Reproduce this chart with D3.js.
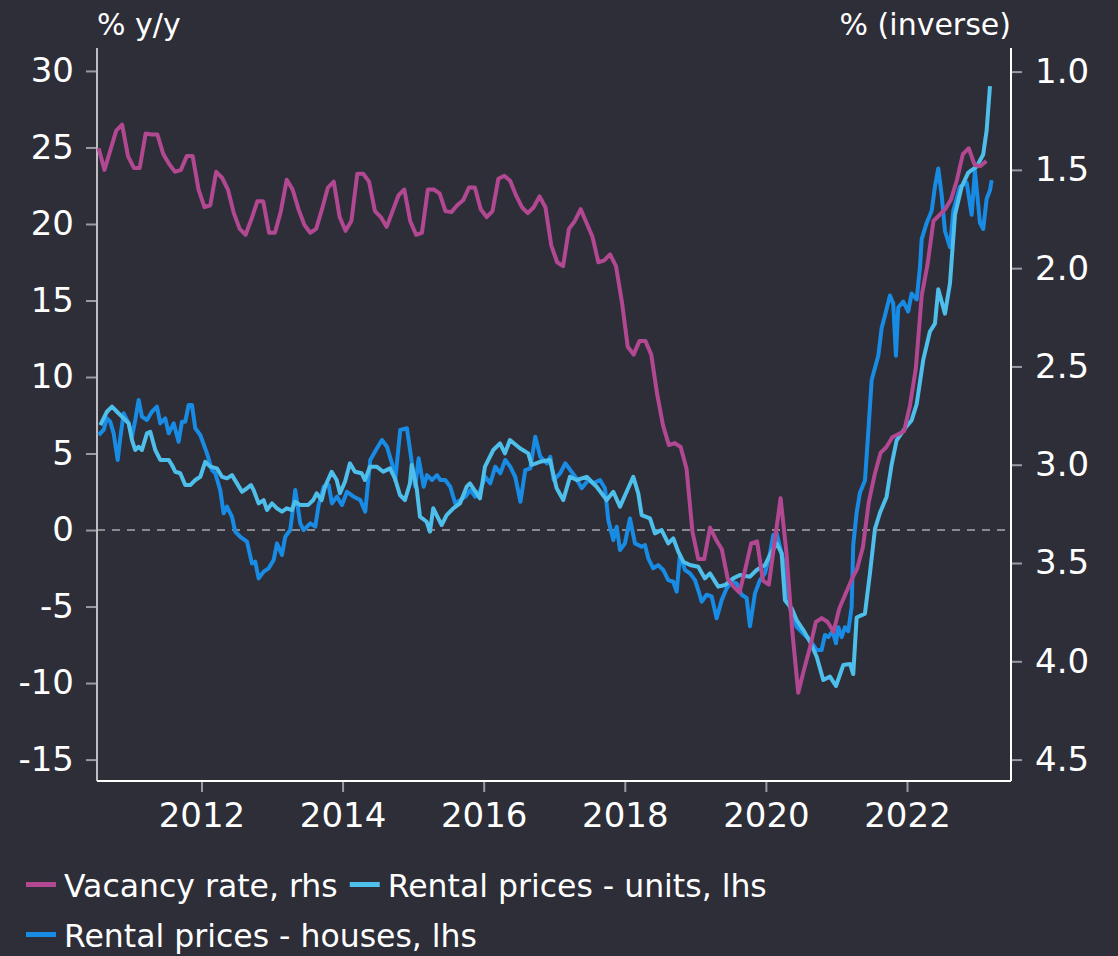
<!DOCTYPE html>
<html>
<head>
<meta charset="utf-8">
<script src="https://cdn.jsdelivr.net/npm/d3@7"></script>
<style>
  html, body { margin: 0; padding: 0; background: #2e2e38; }
  svg { display: block; }
  text { font-family: "DejaVu Sans", sans-serif; fill: #ffffff; }
</style>
</head>
<body>
<svg id="chart" width="1118" height="956"></svg>
<script>
// vacancy rate (%), monthly from Jul 2010
const vacancyStart = new Date(2010, 6, 1);
const vacancyRate = [
  1.39, 1.50, 1.40, 1.30, 1.27, 1.43, 1.49, 1.49, 1.315, 1.32, 1.32, 1.42,
  1.47, 1.51, 1.50, 1.43, 1.43, 1.60, 1.69, 1.68, 1.51, 1.54, 1.60, 1.72,
  1.80, 1.83, 1.75, 1.66, 1.66, 1.82, 1.82, 1.71, 1.55, 1.60, 1.70, 1.78,
  1.82, 1.80, 1.70, 1.59, 1.56, 1.74, 1.81, 1.76, 1.52, 1.52, 1.56, 1.71,
  1.74, 1.79, 1.71, 1.63, 1.60, 1.76, 1.83, 1.82, 1.60, 1.60, 1.62, 1.71,
  1.715, 1.68, 1.655, 1.59, 1.59, 1.70, 1.74, 1.71, 1.545, 1.53, 1.555, 1.63,
  1.69, 1.72, 1.69, 1.635, 1.69, 1.885, 1.97, 1.99, 1.80, 1.76, 1.70, 1.77,
  1.84, 1.97, 1.96, 1.93, 1.99, 2.17, 2.40, 2.44, 2.37, 2.37, 2.44, 2.64,
  2.80, 2.90, 2.89, 2.91, 3.02, 3.34, 3.48, 3.48, 3.32, 3.38, 3.43, 3.58,
  3.62, 3.65, 3.53, 3.40, 3.39, 3.59, 3.61, 3.39, 3.17, 3.45, 3.85, 4.16,
  4.04, 3.93, 3.80, 3.78, 3.80, 3.85, 3.73, 3.66, 3.59, 3.53, 3.42, 3.19,
  3.05, 2.94, 2.91, 2.86, 2.845, 2.83, 2.70, 2.51, 2.14, 1.98, 1.76, 1.73,
  1.70, 1.65, 1.55, 1.42, 1.39, 1.475, 1.48, 1.455
];

// rental prices - units, % y/y (decimal year, value)
const unitsYear = [
  2010.565, 2010.660, 2010.731, 2010.802, 2010.897, 2010.968, 2011.015, 2011.061, 2011.109, 2011.156,
  2011.227, 2011.274, 2011.345, 2011.416, 2011.535, 2011.581, 2011.628, 2011.699, 2011.770, 2011.841,
  2011.912, 2011.983, 2012.053, 2012.124, 2012.219, 2012.290, 2012.361, 2012.432, 2012.503, 2012.574,
  2012.645, 2012.701, 2012.739, 2012.810, 2012.881, 2012.928, 2012.999, 2013.070, 2013.141, 2013.207,
  2013.282, 2013.325, 2013.396, 2013.513, 2013.584, 2013.632, 2013.703, 2013.750, 2013.845, 2013.916,
  2013.963, 2014.034, 2014.104, 2014.175, 2014.270, 2014.317, 2014.388, 2014.483, 2014.576, 2014.671,
  2014.742, 2014.813, 2014.884, 2014.955, 2014.979, 2015.050, 2015.097, 2015.192, 2015.238, 2015.285,
  2015.356, 2015.404, 2015.475, 2015.569, 2015.664, 2015.759, 2015.805, 2015.947, 2016.018, 2016.136,
  2016.231, 2016.301, 2016.372, 2016.514, 2016.632, 2016.680, 2016.797, 2016.939, 2017.034, 2017.128,
  2017.223, 2017.318, 2017.459, 2017.601, 2017.743, 2017.837, 2017.932, 2018.026, 2018.120, 2018.191,
  2018.239, 2018.357, 2018.427, 2018.522, 2018.616, 2018.687, 2018.758, 2018.829, 2018.924, 2019.041,
  2019.136, 2019.207, 2019.325, 2019.420, 2019.537, 2019.632, 2019.774, 2019.869, 2019.987, 2020.082,
  2020.153, 2020.223, 2020.270, 2020.365, 2020.436, 2020.530, 2020.625, 2020.720, 2020.813, 2020.908,
  2020.993, 2021.097, 2021.192, 2021.238, 2021.286, 2021.404, 2021.475, 2021.546, 2021.617, 2021.711,
  2021.782, 2021.853, 2021.971, 2022.066, 2022.137, 2022.230, 2022.325, 2022.396, 2022.443, 2022.538,
  2022.609, 2022.680, 2022.775, 2022.868, 2022.987, 2023.080, 2023.129, 2023.176
];
const unitsValue = [
  6.86, 7.73, 8.06, 7.73, 7.30, 6.97, 5.88, 5.23, 5.44, 5.23,
  6.32, 6.42, 5.23, 4.58, 4.58, 4.25, 3.81, 3.71, 2.94, 2.94,
  3.27, 3.48, 4.46, 4.14, 4.03, 3.48, 3.38, 3.59, 3.05, 2.50,
  2.73, 2.94, 2.61, 1.74, 1.96, 1.31, 1.74, 1.42, 1.20, 1.42,
  1.31, 1.85, 1.64, 1.64, 1.96, 2.40, 1.96, 2.83, 3.81, 3.27,
  2.40, 3.16, 4.36, 3.81, 3.71, 3.27, 4.14, 4.14, 3.81, 4.03,
  3.38, 2.29, 1.96, 3.05, 4.25, 2.73, 0.87, 0.54, -0.11, 1.42,
  0.76, 0.33, 0.98, 1.42, 1.74, 2.83, 3.05, 2.07, 4.14, 5.23,
  5.66, 5.01, 5.88, 5.34, 5.01, 4.25, 4.46, 4.58, 2.73, 1.96,
  3.48, 3.27, 3.48, 2.83, 1.96, 2.50, 1.53, 2.50, 3.48, 2.40,
  0.98, 0.76, -0.22, 0.00, -0.87, -0.54, -1.41, -2.07, -2.29, -2.40,
  -3.16, -2.83, -3.70, -3.59, -3.16, -2.94, -3.05, -2.61, -2.29, -1.41,
  -0.87, -1.52, -4.58, -5.12, -5.88, -6.54, -7.30, -8.28, -9.80, -9.58,
  -10.19, -8.82, -8.75, -9.41, -5.72, -5.46, -2.83, 0.07, 1.13, 2.18,
  4.28, 5.86, 6.65, 7.18, 8.23, 11.12, 12.97, 13.49, 15.73, 14.14,
  16.12, 20.60, 22.44, 23.35, 23.75, 24.54, 26.12, 29.01
];

// rental prices - houses, % y/y (decimal year, value)
const housesYear = [
  2010.543, 2010.613, 2010.660, 2010.707, 2010.755, 2010.812, 2010.849, 2010.897, 2010.968, 2011.015,
  2011.061, 2011.109, 2011.156, 2011.227, 2011.298, 2011.369, 2011.416, 2011.487, 2011.535, 2011.606,
  2011.676, 2011.723, 2011.770, 2011.818, 2011.865, 2011.912, 2011.983, 2012.078, 2012.148, 2012.195,
  2012.266, 2012.314, 2012.361, 2012.432, 2012.479, 2012.550, 2012.645, 2012.715, 2012.762, 2012.810,
  2012.881, 2012.952, 2013.023, 2013.070, 2013.141, 2013.187, 2013.258, 2013.329, 2013.400, 2013.448,
  2013.542, 2013.613, 2013.661, 2013.732, 2013.803, 2013.849, 2013.920, 2013.991, 2014.062, 2014.157,
  2014.251, 2014.321, 2014.392, 2014.487, 2014.558, 2014.629, 2014.700, 2014.746, 2014.817, 2014.912,
  2014.983, 2015.030, 2015.078, 2015.149, 2015.196, 2015.267, 2015.338, 2015.385, 2015.455, 2015.526,
  2015.597, 2015.668, 2015.739, 2015.810, 2015.880, 2015.951, 2016.022, 2016.093, 2016.164, 2016.235,
  2016.306, 2016.376, 2016.447, 2016.521, 2016.589, 2016.660, 2016.731, 2016.802, 2016.897, 2016.944,
  2016.992, 2017.085, 2017.156, 2017.227, 2017.298, 2017.389, 2017.482, 2017.553, 2017.648, 2017.719,
  2017.766, 2017.837, 2017.885, 2017.932, 2018.002, 2018.073, 2018.144, 2018.239, 2018.286, 2018.333,
  2018.403, 2018.474, 2018.545, 2018.616, 2018.687, 2018.735, 2018.782, 2018.853, 2018.924, 2018.995,
  2019.041, 2019.090, 2019.160, 2019.231, 2019.302, 2019.373, 2019.444, 2019.515, 2019.586, 2019.656,
  2019.727, 2019.774, 2019.845, 2019.916, 2019.987, 2020.058, 2020.104, 2020.153, 2020.199, 2020.246,
  2020.294, 2020.365, 2020.436, 2020.530, 2020.625, 2020.720, 2020.790, 2020.837, 2020.884, 2020.946,
  2020.993, 2021.026, 2021.074, 2021.121, 2021.167, 2021.215, 2021.238, 2021.286, 2021.333, 2021.404,
  2021.451, 2021.499, 2021.593, 2021.641, 2021.687, 2021.758, 2021.805, 2021.843, 2021.876, 2021.947,
  2022.017, 2022.066, 2022.137, 2022.184, 2022.208, 2022.279, 2022.350, 2022.396, 2022.443, 2022.491,
  2022.538, 2022.609, 2022.656, 2022.751, 2022.846, 2022.916, 2022.963, 2023.034, 2023.080, 2023.129,
  2023.176, 2023.200
];
const housesValue = [
  6.21, 6.54, 7.30, 7.08, 6.32, 4.58, 6.01, 7.63, 6.97, 6.10,
  7.19, 8.50, 7.41, 7.19, 7.73, 8.06, 6.97, 7.30, 6.32, 6.97,
  5.77, 7.08, 7.08, 8.17, 8.17, 6.65, 6.21, 5.01, 3.92, 3.71,
  2.61, 1.09, 1.53, 0.87, -0.11, -0.44, -0.76, -2.18, -2.07, -3.16,
  -2.72, -2.50, -1.96, -0.87, -1.63, -0.44, 0.00, 2.61, 0.44, 0.00,
  0.44, 0.22, 1.64, 2.83, 2.94, 1.74, 2.18, 1.64, 2.50, 2.18,
  1.96, 1.20, 4.58, 5.34, 5.88, 5.44, 4.36, 3.27, 6.54, 6.65,
  4.36, 2.83, 4.69, 2.83, 3.59, 3.27, 3.59, 3.27, 3.27, 2.83,
  1.74, 1.96, 2.18, 2.61, 2.18, 2.61, 3.48, 3.05, 4.14, 3.71,
  4.58, 4.14, 3.48, 1.85, 3.92, 4.03, 6.10, 4.79, 4.36, 4.79,
  3.27, 3.71, 4.36, 3.92, 3.48, 2.73, 3.27, 3.05, 3.27, 2.73,
  0.65, -0.65, 0.22, -1.31, -0.87, 0.76, -0.87, -1.09, -0.98, -1.85,
  -2.50, -2.29, -2.61, -3.27, -3.38, -4.03, -1.63, -2.61, -2.83, -3.27,
  -3.92, -4.68, -4.23, -4.34, -5.77, -4.58, -3.81, -3.38, -3.49, -4.23,
  -4.44, -6.29, -4.14, -3.27, -2.83, -1.52, -0.33, -0.22, -1.09, -1.96,
  -4.36, -5.44, -6.32, -6.76, -7.19, -7.84, -7.84, -6.86, -7.00, -6.61,
  -7.40, -6.35, -7.00, -6.35, -6.61, -5.05, -0.98, 1.13, 2.44, 3.23,
  6.39, 9.80, 11.39, 13.22, 14.01, 15.33, 14.80, 11.39, 14.54, 14.93,
  14.28, 15.46, 15.07, 17.17, 19.01, 20.07, 20.86, 22.44, 23.62, 21.91,
  19.54, 18.49, 20.86, 22.44, 22.70, 20.60, 23.49, 20.07, 19.67, 21.65,
  22.20, 22.86
];

const leftTicks = [-15, -10, -5, 0, 5, 10, 15, 20, 25, 30];
const rightTicks = [1.0, 1.5, 2.0, 2.5, 3.0, 3.5, 4.0, 4.5];
const yearTicks = [2012, 2014, 2016, 2018, 2020, 2022];

const color = {
  vacancy: "#b14891",
  units: "#4ebeeb",
  houses: "#188ce5",
};

const svg = d3.select("#chart");
const box = { left: 97, right: 1011, top: 48, bottom: 781 };

const x = d3.scaleLinear().domain([2010.519, 2023.474]).range([box.left, box.right]);
const yL = d3.scaleLinear().domain([-16.4, 31.5]).range([box.bottom, box.top]);
const yR = d3.scaleLinear().domain([4.609, 0.88]).range([box.bottom, box.top]);

// decimal year of the middle of month k after the start
const vacancyYear = vacancyRate.map(function (v, k) {
  return vacancyStart.getFullYear() + (vacancyStart.getMonth() + k + 0.5) / 12;
});

const vacancy = vacancyRate.map(function (v, i) { return [vacancyYear[i], v]; });
const units = unitsValue.map(function (v, i) { return [unitsYear[i], v]; });
const houses = housesValue.map(function (v, i) { return [housesYear[i], v]; });

// zero line
svg.append("line")
  .attr("x1", box.left).attr("x2", box.right)
  .attr("y1", yL(0)).attr("y2", yL(0))
  .style("stroke", "#8a8a90")
  .style("stroke-width", 2)
  .style("stroke-dasharray", "8,7");

// axes
const leftAxis = svg.append("g")
  .attr("transform", "translate(" + box.left + ",0)")
  .call(d3.axisLeft(yL).tickValues(leftTicks).tickSize(11).tickPadding(12)
    .tickFormat(function (d) { return String(d); }));

const rightAxis = svg.append("g")
  .attr("transform", "translate(" + box.right + ",0)")
  .call(d3.axisRight(yR).tickValues(rightTicks).tickSize(11).tickPadding(13)
    .tickFormat(function (d) { return d.toFixed(1); }));

const bottomAxis = svg.append("g")
  .attr("transform", "translate(0," + box.bottom + ")")
  .call(d3.axisBottom(x).tickValues(yearTicks).tickSize(11).tickPadding(13)
    .tickFormat(d3.format("d")));

[leftAxis, rightAxis, bottomAxis].forEach(function (g) {
  g.select(".domain").remove();
  g.selectAll(".tick line").style("stroke", "#9a9aa0").style("stroke-width", 2);
  g.selectAll(".tick text")
    .style("font-family", "DejaVu Sans")
    .style("font-size", "34px")
    .style("fill", "#ffffff");
});
bottomAxis.selectAll(".tick text").attr("dy", "0.66em");

svg.append("line")
  .attr("x1", box.left).attr("x2", box.left)
  .attr("y1", box.top).attr("y2", box.bottom)
  .style("stroke", "#bdbdc2").style("stroke-width", 2);
svg.append("line")
  .attr("x1", box.right).attr("x2", box.right)
  .attr("y1", box.top).attr("y2", box.bottom)
  .style("stroke", "#ffffff").style("stroke-width", 2);
svg.append("line")
  .attr("x1", box.left).attr("x2", box.right)
  .attr("y1", box.bottom).attr("y2", box.bottom)
  .style("stroke", "#ffffff").style("stroke-width", 2);

// series
const lineL = d3.line()
  .x(function (d) { return x(d[0]); })
  .y(function (d) { return yL(d[1]); });
const lineR = d3.line()
  .x(function (d) { return x(d[0]); })
  .y(function (d) { return yR(d[1]); });

svg.append("path").datum(houses)
  .attr("d", lineL)
  .style("fill", "none").style("stroke", color.houses)
  .style("stroke-width", 4).style("stroke-linejoin", "round");
svg.append("path").datum(units)
  .attr("d", lineL)
  .style("fill", "none").style("stroke", color.units)
  .style("stroke-width", 4).style("stroke-linejoin", "round");
svg.append("path").datum(vacancy)
  .attr("d", lineR)
  .style("fill", "none").style("stroke", color.vacancy)
  .style("stroke-width", 4).style("stroke-linejoin", "round");

// axis titles
svg.append("text")
  .attr("x", box.left).attr("y", 35)
  .style("font-size", "30px")
  .text("% y/y");
svg.append("text")
  .attr("x", box.right).attr("y", 35)
  .attr("text-anchor", "end")
  .style("font-size", "30px")
  .text("% (inverse)");

// legend
const legendRows = [
  [{ name: "Vacancy rate, rhs", color: color.vacancy }, { name: "Rental prices - units, lhs", color: color.units }],
  [{ name: "Rental prices - houses, lhs", color: color.houses }],
];
const rowBaseline = [897, 947];

legendRows.forEach(function (row, r) {
  let cx = 26;
  row.forEach(function (item) {
    svg.append("rect")
      .attr("x", cx).attr("y", rowBaseline[r] - 15)
      .attr("width", 30).attr("height", 5)
      .style("fill", item.color);
    const t = svg.append("text")
      .attr("x", cx + 38).attr("y", rowBaseline[r])
      .style("font-size", "31.5px")
      .text(item.name);
    cx = cx + 38 + t.node().getComputedTextLength() + 12;
  });
});
</script>
</body>
</html>
